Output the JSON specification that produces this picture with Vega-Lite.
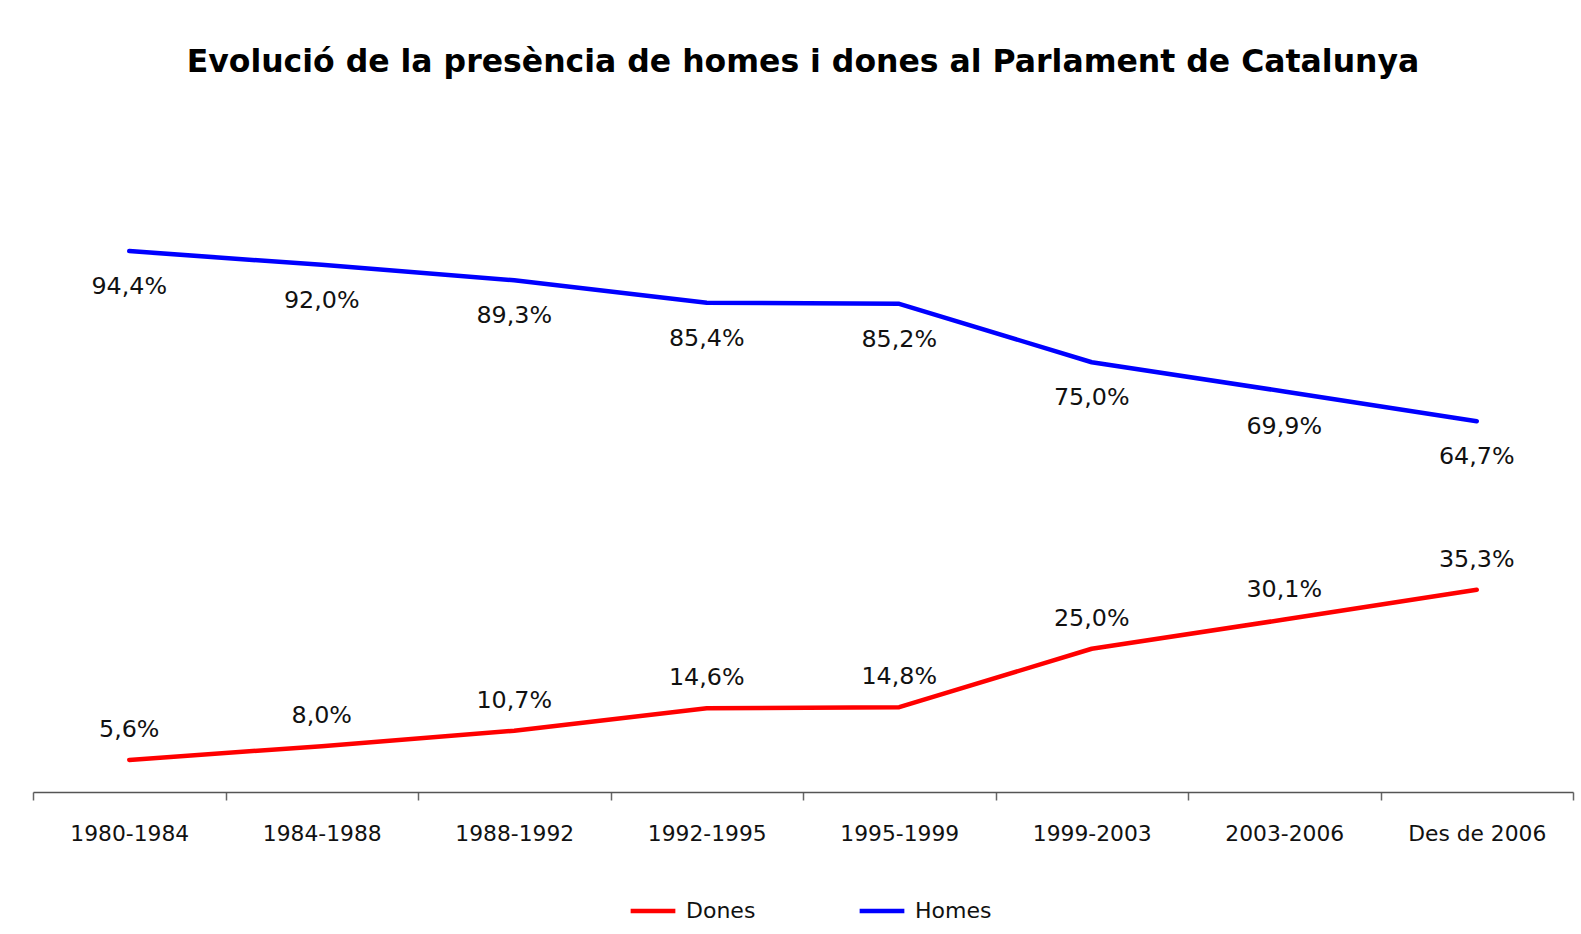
{
  "$schema": "https://vega.github.io/schema/vega-lite/v6.json",
  "width": 1540,
  "height": 573,
  "autosize": "none",
  "padding": {"left": 33, "top": 219, "right": 8, "bottom": 142},
  "background": "white",
  "config": {"view": {"stroke": null}},
  "title": {
    "text": "Evolució de la presència de homes i dones al Parlament de Catalunya",
    "font": "DejaVu Sans",
    "fontSize": 31.5,
    "fontWeight": "bold",
    "color": "#000000",
    "anchor": "middle",
    "offset": 141
  },
  "data": {
    "values": [
      {"period": "1980-1984", "sex": "Homes", "pct": 94.4},
      {"period": "1984-1988", "sex": "Homes", "pct": 92.0},
      {"period": "1988-1992", "sex": "Homes", "pct": 89.3},
      {"period": "1992-1995", "sex": "Homes", "pct": 85.4},
      {"period": "1995-1999", "sex": "Homes", "pct": 85.2},
      {"period": "1999-2003", "sex": "Homes", "pct": 75.0},
      {"period": "2003-2006", "sex": "Homes", "pct": 69.9},
      {"period": "Des de 2006", "sex": "Homes", "pct": 64.7},
      {"period": "1980-1984", "sex": "Dones", "pct": 5.6},
      {"period": "1984-1988", "sex": "Dones", "pct": 8.0},
      {"period": "1988-1992", "sex": "Dones", "pct": 10.7},
      {"period": "1992-1995", "sex": "Dones", "pct": 14.6},
      {"period": "1995-1999", "sex": "Dones", "pct": 14.8},
      {"period": "1999-2003", "sex": "Dones", "pct": 25.0},
      {"period": "2003-2006", "sex": "Dones", "pct": 30.1},
      {"period": "Des de 2006", "sex": "Dones", "pct": 35.3}
    ]
  },
  "transform": [
    {"calculate": "replace(format(datum.pct, '.1f'), '.', ',') + '%'", "as": "label"}
  ],
  "encoding": {
    "x": {
      "field": "period",
      "type": "nominal",
      "sort": null,
      "scale": {"type": "band", "paddingInner": 0, "paddingOuter": 0},
      "axis": {
        "title": null,
        "labelAngle": 0,
        "tickBand": "extent",
        "tickSize": 8,
        "tickColor": "#666666",
        "domainColor": "#555555",
        "domainWidth": 1.5,
        "tickWidth": 1.5,
        "grid": false,
        "labelFont": "DejaVu Sans",
        "labelFontSize": 21.8,
        "labelColor": "#111111",
        "labelPadding": 23
      }
    },
    "y": {
      "field": "pct",
      "type": "quantitative",
      "scale": {"domain": [0, 100], "nice": false, "zero": true},
      "axis": null
    }
  },
  "layer": [
    {
      "mark": {"type": "line", "strokeWidth": 4.5, "strokeCap": "round", "strokeJoin": "round"},
      "encoding": {
        "color": {
          "field": "sex",
          "type": "nominal",
          "scale": {"domain": ["Dones", "Homes"], "range": ["#FF0000", "#0000FF"]},
          "legend": {
            "title": null,
            "orient": "none",
            "legendX": 595,
            "legendY": 667,
            "direction": "horizontal",
            "symbolType": "stroke",
            "symbolStrokeWidth": 4.5,
            "symbolSize": 2000,
            "labelFont": "DejaVu Sans",
            "labelFontSize": 22,
            "labelColor": "#111111",
            "labelOffset": 8,
            "columnPadding": 94
          }
        }
      }
    },
    {
      "transform": [{"filter": "datum.sex === 'Homes'"}],
      "mark": {"type": "text", "font": "DejaVu Sans", "fontSize": 23.8, "color": "#111111", "baseline": "middle", "dy": 36},
      "encoding": {"text": {"field": "label"}}
    },
    {
      "transform": [{"filter": "datum.sex === 'Dones'"}],
      "mark": {"type": "text", "font": "DejaVu Sans", "fontSize": 23.8, "color": "#111111", "baseline": "middle", "dy": -30},
      "encoding": {"text": {"field": "label"}}
    }
  ]
}
